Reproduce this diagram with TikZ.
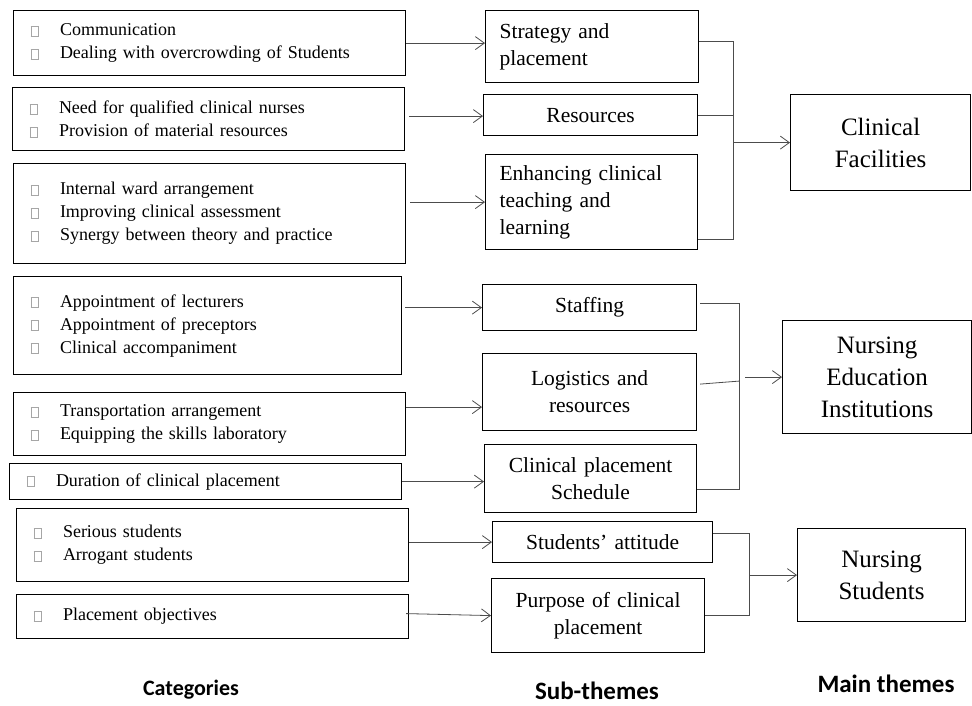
\documentclass[tikz,border=0pt]{standalone}
\usepackage{fontspec}
\setmainfont{Liberation Serif}
\newfontfamily\hdrfont{Carlito}
\usetikzlibrary{arrows.meta}

% little grey box in front of every category
\newcommand\bx{\textcolor{gray!70}{\setlength\fboxsep{0pt}\setlength\fboxrule{0.7pt}\fbox{\rule{0pt}{9pt}\hspace{7pt}}}}
\newcommand\itm[1]{\bx\hspace{21pt}#1}

\begin{document}
\begin{tikzpicture}[x=1pt, y=-1pt,
  cat/.style={draw, line width=1.2pt, anchor=north west, inner xsep=17pt, inner ysep=0pt, text width=358pt, align=left, font=\fontsize{18}{23}\selectfont},
  sub/.style={draw, line width=1.2pt, anchor=north west, inner xsep=14pt, inner ysep=0pt, text width=185pt, align=center, font=\fontsize{21.5}{27}\selectfont},
  subl/.style={sub, align=left},
  theme/.style={draw, line width=1.2pt, anchor=north west, inner xsep=8pt, inner ysep=0pt, text width=150pt, align=center, font=\fontsize{25}{32}\selectfont},
  link/.style={draw=black!70, line width=0.8pt},
  arr/.style={link, -{Straight Barb[length=9pt,width=13pt]}},
  hdr/.style={font=\hdrfont\bfseries\fontsize{25}{30}\selectfont}]
\useasboundingbox (0,0) rectangle (972,706);

% categories
\node[cat, minimum height=65pt] (c1) at (13,10) {\itm{Communication}\\ \itm{Dealing with overcrowding of Students}};
\node[cat, minimum height=63pt] (c2) at (12,87) {\itm{Need for qualified clinical nurses}\\ \itm{Provision of material resources}};
\node[cat, minimum height=100pt] (c3) at (13,163) {\itm{Internal ward arrangement}\\ \itm{Improving clinical assessment}\\ \itm{Synergy between theory and practice}};
\node[cat, minimum height=98pt, text width=354pt] (c4) at (13,276) {\itm{Appointment of lecturers}\\ \itm{Appointment of preceptors}\\ \itm{Clinical accompaniment}\\[8pt]};
\node[cat, minimum height=63pt] (c5) at (13,392) {\itm{Transportation arrangement}\\ \itm{Equipping the skills laboratory}};
\node[cat, minimum height=36pt] (c6) at (9,463) {\itm{Duration of clinical placement}};
\node[cat, minimum height=73pt] (c7) at (16,508) {\itm{Serious students}\\ \itm{Arrogant students}\\[8pt]};
\node[cat, minimum height=44pt] (c8) at (16,594) {\itm{Placement objectives}};

% sub-themes
\node[subl, minimum height=72pt] (s1) at (485,10) {Strategy and\\ placement};
\node[sub, minimum height=41pt, text width=186pt] (s2) at (483,94) {Resources};
\node[subl, minimum height=95pt, text width=184pt] (s3) at (485,154) {Enhancing clinical\\ teaching and\\ learning};
\node[sub, minimum height=46pt, text width=186pt] (s4) at (482,284) {Staffing};
\node[sub, minimum height=77pt, text width=186pt] (s5) at (482,353) {Logistics and\\ resources};
\node[sub, minimum height=68pt, text width=184pt] (s6) at (484,444) {Clinical placement\\ Schedule};
\node[sub, minimum height=41pt, text width=192pt] (s7) at (492,521) {Students’ attitude};
\node[sub, minimum height=74pt, text width=185pt] (s8) at (491,578) {Purpose of clinical\\ placement};

% main themes
\node[theme, minimum width=180pt, minimum height=96pt] (m1) at (790,94) {Clinical\\ Facilities};
\node[theme, minimum width=189pt, minimum height=113pt] (m2) at (782,320) {Nursing\\ Education\\ Institutions};
\node[theme, minimum width=168pt, minimum height=93pt] (m3) at (797,528) {Nursing\\ Students};

% categories -> sub-themes
\draw[arr] (c1.east) -- (c1.east -| s1.west);
\draw[arr] ([xshift=4pt,yshift=3pt]c2.east) -- ([yshift=3pt]c2.east -| s2.west);
\draw[arr] ([xshift=4pt]c3.east |- s3.west) -- (s3.west);
\draw[arr] ([xshift=3pt]c4.east |- s4.west) -- (s4.west);
\draw[arr] ([yshift=17pt]c5.east) -- ([yshift=17pt]c5.east -| s5.west);
\draw[arr] (c6.east) -- (c6.east -| s6.west);
\draw[arr] (c7.east |- s7.west) -- (s7.west);
\draw[arr] ([xshift=-3pt,yshift=3pt]c8.east) -- (s8.west);

% sub-themes -> main themes
\coordinate (j1) at (733,0);
\coordinate (j2) at (739,0);
\coordinate (j3) at (749,0);
\draw[link] ([yshift=5pt]s1.east) -- ([yshift=5pt]s1.east -| j1) -- ([yshift=11pt]s3.south east -| j1) -- ([yshift=11pt]s3.south east);
\draw[link] (s2.east) -- (s2.east -| j1);
\draw[arr] (m1.west -| j1) -- (m1.west);
\draw[link] ([xshift=3pt,yshift=4pt]s4.east) -- ([yshift=4pt]s4.east -| j2) -- ([yshift=-11pt]s6.east -| j2) -- ([yshift=-11pt]s6.east);
\draw[link] ([xshift=3pt,yshift=8pt]s5.east) -- ([yshift=11pt]s5.east -| j2);
\draw[arr] ([xshift=6pt]m2.west -| j2) -- (m2.west);
\draw[link] ([yshift=9pt]s7.east) -- ([yshift=9pt]s7.east -| j3) -- (s8.east -| j3) -- (s8.east);
\draw[arr] (m3.west -| j3) -- (m3.west);

% column titles
\node[hdr, font=\hdrfont\bfseries\fontsize{22}{26}\selectfont] (hcat) at (191,690) {Categories};
\node[hdr] (hsub) at (597,691) {Sub-themes};
\node[hdr] (hmain) at (886,684) {Main themes};
\end{tikzpicture}
\end{document}
